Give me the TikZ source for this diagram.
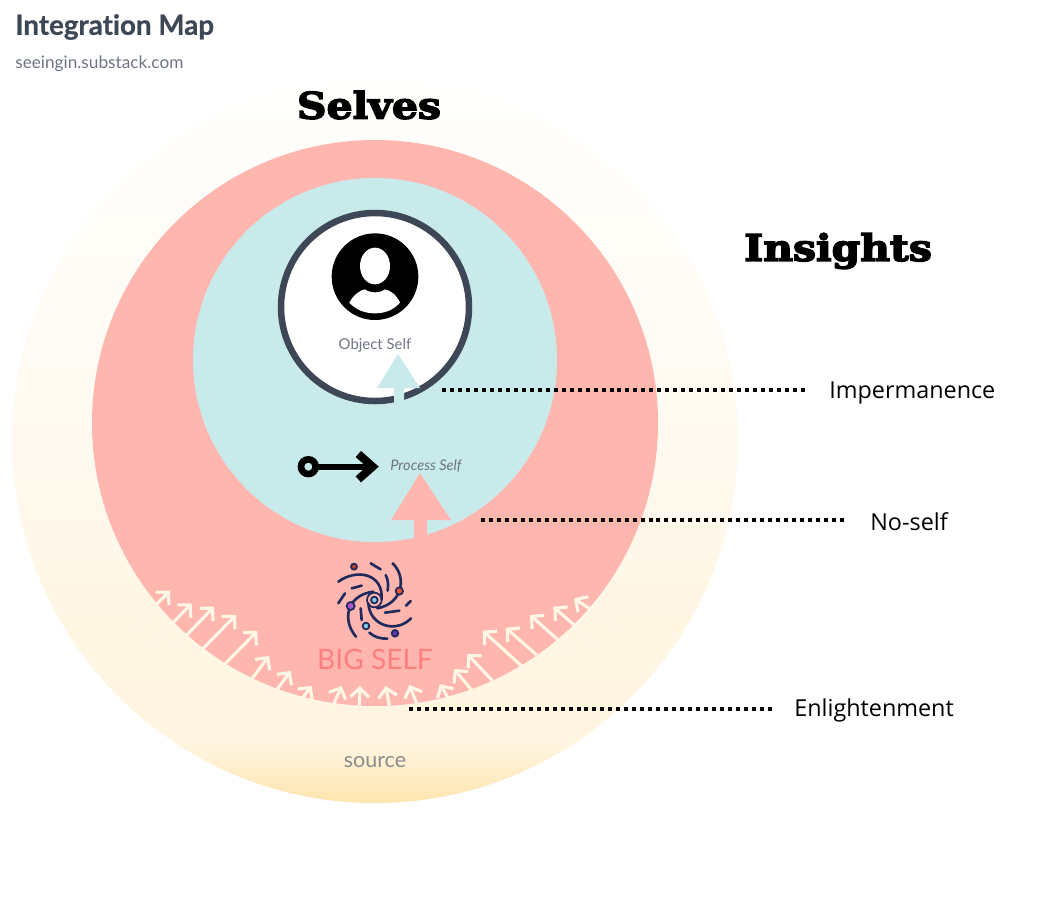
\documentclass[tikz,border=0pt]{standalone}
\usepackage{xcolor}
\usepackage{fontspec}
\usepackage{tikz}
\usetikzlibrary{arrows.meta, positioning, calc}
\newfontfamily\latofont{Lato}
\newfontfamily\openfont{Open Sans}
\newfontfamily\slabfont[BoldFeatures={FakeBold=4,FakeStretch=1.12}]{DejaVu Serif}
\definecolor{myred}{RGB}{255,182,174}
\definecolor{myteal}{RGB}{200,234,234}
\definecolor{mycream}{RGB}{255,246,229}
\definecolor{myink}{RGB}{61,71,86}
\definecolor{mynavy}{RGB}{32,42,92}
\definecolor{mysalmon}{RGB}{255,127,127}
\definecolor{mygrey}{RGB}{110,116,132}
\definecolor{srcgrey}{RGB}{140,140,140}
\definecolor{dotorange}{RGB}{240,80,40}
\definecolor{dotpurple}{RGB}{170,85,205}
\definecolor{dotblue}{RGB}{125,205,235}
\definecolor{dotdark}{RGB}{90,60,170}
\definecolor{srcdeep}{RGB}{255,228,174}
\definecolor{srcmid}{RGB}{255,245,224}
\definecolor{srchigh}{RGB}{255,250,241}
\definecolor{srctop}{RGB}{255,255,253}
\pgfdeclareverticalshading{sourceshade}{100bp}{
  color(0bp)=(srcdeep);
  color(25bp)=(srcdeep);
  color(29bp)=(srcmid);
  color(39bp)=(mycream);
  color(50bp)=(srchigh);
  color(75bp)=(srctop);
  color(100bp)=(srctop)}
\tikzset{
  headtxt/.style={font=\slabfont\bfseries\fontsize{20.8}{24}\selectfont, text=black, inner sep=0pt},
  insighttxt/.style={anchor=west, font=\openfont\fontsize{13.3}{16}\selectfont, text=black, inner sep=0pt},
  selftxt/.style={font=\latofont\fontsize{8.5}{10}\selectfont, text=mygrey, inner sep=0pt},
  leader/.style={line width=2pt, color=black, dash pattern=on 2.27pt off 2.27pt},
  risearrow/.style={-{Straight Barb[length=5pt,width=10.5pt]}, line width=1.8pt, color=mycream},
  galaxyarm/.style={line width=1.5pt, color=mynavy, line cap=round},
  galaxydot/.style={draw=mynavy, line width=1pt}
}
\begin{document}
\begin{tikzpicture}[x=0.02cm, y=-0.02cm]
  \useasboundingbox (0,0) rectangle (1050,900);

  % Nested circles
  \shade[shading=sourceshade] (375,440) circle[radius=363];
  \fill[myred] (375,423) circle[radius=283];
  \fill[myteal] (375,360) circle[radius=182];
  \draw[fill=white, draw=myink, line width=3.7pt] (375,307) circle[radius=94];

  % Title
  \node[anchor=west, inner sep=0pt, text=myink, font=\latofont\bfseries\addfontfeature{Ligatures=NoCommon,FakeBold=0.7}\fontsize{15.8}{20}\selectfont] (ttl_map) at (15,27) {Integration Map};
  \node[anchor=west, inner sep=0pt, text=mygrey, font=\latofont\fontsize{9.8}{12}\selectfont] (ttl_src) at (15,64) {seeingin.substack.com};

  % Headings
  \node[headtxt] (hd_selves) at (369,105) {Selves};
  \node[headtxt] (hd_insights) at (838,251) {Insights};

  % Arrows between the selves
  \fill[myteal] (398,354) -- (420,388) -- (404,388) -- (404,427) -- (394,427) -- (394,388) -- (377,388) -- cycle;
  \fill[myred] (420,473) -- (451,520) -- (427,520) -- (427,570) -- (414,570) -- (414,520) -- (391,520) -- cycle;

  % Self labels
  \node[selftxt] (lbl_object) at (375,345) {Object Self};
  \node[selftxt, font=\latofont\itshape\fontsize{8.3}{10}\selectfont] (lbl_process) at (426,466) {Process Self};
  \node[inner sep=0pt, text=mysalmon, font=\latofont\fontsize{16}{20}\selectfont] (lbl_big) at (375,659) {BIG SELF};
  \node[inner sep=0pt, text=srcgrey, font=\latofont\fontsize{12.2}{14}\selectfont] (lbl_source) at (375,762) {source};

  % Person icon (crop coordinates)
  \begin{scope}[shift={(270,210)}, scale=1/3]
    \fill[black] (315,200) circle[radius=130];
    \fill[white] (315,168) ellipse[x radius=45, y radius=55];
    \fill[white] (238,278) .. controls (250,255) and (270,240) .. (285,238) .. controls (300,250) and (330,250) .. (345,238) .. controls (360,240) and (380,255) .. (390,278) .. controls (370,300) and (345,310) .. (315,310) .. controls (285,310) and (258,300) .. (238,278) -- cycle;
    % Process icon
    \draw[black, line width=3.8pt] (115,770) circle[radius=22];
    \draw[black, line width=3.4pt] (137,770) -- (305,770);
    \draw[black, line width=4.6pt, miter limit=4] (265,732) -- (308,770) -- (265,808);
  \end{scope}

  % Rising arrows and galaxy (crop coordinates)
  \begin{scope}[shift={(120,540)}, scale=1/3]
    \draw[risearrow] (30,275) -- (150,152);
    \draw[risearrow] (95,315) -- (215,190);
    \draw[risearrow] (165,322) -- (282,200);
    \draw[risearrow] (235,340) -- (348,225);
    \draw[risearrow] (315,372) -- (412,273);
    \draw[risearrow] (395,418) -- (447,348);
    \draw[risearrow] (470,450) -- (512,393);
    \draw[risearrow] (535,490) -- (575,438);
    \draw[risearrow] (640,495) -- (665,438);
    \draw[risearrow] (718,497) -- (720,438);
    \draw[risearrow] (808,497) -- (797,438);
    \draw[risearrow] (890,490) -- (868,435);
    \draw[risearrow] (985,475) -- (960,432);
    \draw[risearrow] (1055,450) -- (1002,387);
    \draw[risearrow] (1120,425) -- (1042,342);
    \draw[risearrow] (1205,378) -- (1088,272);
    \draw[risearrow] (1250,345) -- (1157,263);
    \draw[risearrow] (1360,340) -- (1230,225);
    \draw[risearrow] (1430,315) -- (1300,200);
    \draw[risearrow] (1505,270) -- (1362,175);

    % Arms
    \draw[galaxyarm] (655,125) .. controls (710,85) and (790,100) .. (785,178);
    \draw[galaxyarm] (818,70) .. controls (860,110) and (850,190) .. (772,205);
    \draw[galaxyarm] (873,235) .. controls (830,280) and (750,260) .. (745,190);
    \draw[galaxyarm] (708,290) .. controls (665,240) and (680,165) .. (760,155);
    \draw[galaxyarm] (752,70) -- (782,88);
    \draw[galaxyarm] (797,105) .. controls (805,120) and (805,135) .. (803,152);
    \draw[galaxyarm] (695,145) -- (725,137);
    \draw[galaxyarm] (655,190) -- (675,160);
    \draw[galaxyarm] (858,197) -- (872,183);
    \draw[galaxyarm] (795,218) -- (838,212);
    \draw[galaxyarm] (722,205) -- (725,240);
    \draw[galaxyarm] (748,278) .. controls (765,292) and (780,296) .. (802,296);

    % Stars
    \draw[galaxydot, fill=dotorange!80!black] (702,80) circle[radius=9];
    \draw[galaxydot, fill=dotorange] (838,153) circle[radius=11];
    \draw[galaxydot, fill=dotpurple] (692,198) circle[radius=12];
    \draw[galaxydot, fill=dotblue] (738,258) circle[radius=10];
    \draw[galaxydot, fill=dotdark] (825,280) circle[radius=10];
    \draw[galaxydot, fill=dotblue] (763,180) circle[radius=10];
    \draw[galaxydot] (763,180) circle[radius=22];
  \end{scope}

  % Insights with leader lines
  \node[insighttxt] (lbl_imp) at (829,393) {Impermanence};
  \coordinate (imp_start) at (442,390);
  \coordinate (imp_end) at (805,390);
  \draw[leader] (imp_start) -- (imp_end);

  \node[insighttxt] (lbl_noself) at (870,522) {No-self};
  \coordinate (noself_start) at (481,520);
  \coordinate (noself_end) at (845,520);
  \draw[leader] (noself_start) -- (noself_end);

  \node[insighttxt] (lbl_enl) at (794,710) {Enlightenment};
  \coordinate (enl_start) at (409,709);
  \coordinate (enl_end) at (772,709);
  \draw[leader] (enl_start) -- (enl_end);
\end{tikzpicture}
\end{document}
